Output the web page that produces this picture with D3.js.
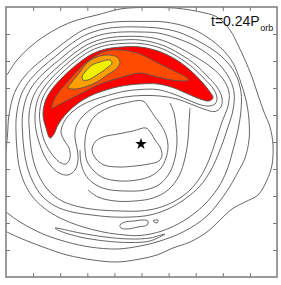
<!DOCTYPE html>
<html><head><meta charset="utf-8">
<script src="https://cdn.jsdelivr.net/npm/d3@7"></script>
<style>html,body{margin:0;padding:0;background:#fff;}svg{display:block;}</style>
</head><body>
<script>
// Data coordinates: x, y measured from the central star (arbitrary length units)
const xDomain = [-135, 136];
const yDomain = [-135, 135];
const xTicks = [-107.9, -80.8, -53.7, -26.6, 0.5, 27.6, 54.7, 81.8, 108.9];
const yTicks = [108, 81, 54, 27, 0, -27, -54, -81, -108];
const starPos = [0, -2];
const timeLabel = "t=0.24P";
const timeSub = "orb";

// filled density levels (highest = yellow)
const redRegion = [[-91,4],[-95,14],[-98,27],[-96,40],[-91,50],[-83,60],[-73,70],[-61,80],[-49,88],[-35,93],[-19,95],[-1,95],[17,91],[34,83],[49,72],[61,60],[69,50],[72,44],[68,41],[59,43],[47,48],[33,54],[17,58],[-1,58],[-19,56],[-35,52],[-51,46],[-64,38],[-75,28],[-83,17],[-87,8]];
const darkOrangeRegion = [[-89,34],[-86,44],[-79,54],[-71,63],[-61,74],[-49,84],[-35,91],[-19,92],[-1,88],[17,79],[31,72],[45,65],[48,62],[41,61],[31,62],[16,65],[-1,69],[-15,66],[-29,62],[-43,57],[-57,50],[-71,43],[-81,38]];
const orangeRegion = [[-73,54],[-69,60],[-61,70],[-53,80],[-44,85],[-34,87],[-24,85],[-21,79],[-26,72],[-34,67],[-44,60],[-56,55],[-66,53]];
const yellowRegion = [[-59,65],[-56,70],[-49,77],[-41,80],[-31,82],[-29,79],[-34,74],[-44,67],[-53,62],[-58,62]];

// unfilled contour lines
const contourA1 = [[-1,98.5],[-19,98.5],[-35.5,96.5],[-50.3,91.3],[-62.9,82.9],[-75.2,72.7],[-85.6,62.3],[-94,51.9],[-99.3,41],[-101.5,27],[-100,14],[-97,2],[-92,-8],[-86,-16],[-80,-21],[-75,-22],[-71,-16],[-72,-6],[-77,2],[-80,10],[-77,20],[-69,30],[-59,37],[-48,42],[-33.5,46.5],[-18,50.5],[-1,52.5],[16,52.5],[31,48.5],[45,43],[57,38],[67,36],[74,38],[76,44],[72.5,53],[64,62.5],[51.5,74.7],[35.5,86],[18,94.5]];
const contourA2 = [[-1,102],[-19,102],[-36,100],[-51.6,94.5],[-64.8,85.8],[-77.5,75.4],[-88.4,64.9],[-97.4,54],[-103.4,42.3],[-106,27],[-105,12],[-102,0],[-97,-13],[-90,-24],[-82,-31],[-73,-33],[-66,-28],[-63,-18],[-64,-6],[-66,4],[-65,15],[-59,25],[-48,34],[-33,41],[-16,45],[1,46.5],[19,46],[36,43],[51,37.5],[64,32.5],[74,30.5],[80,35],[81,44],[76,55],[67,65],[55,77],[39,88],[21,97]];
const contourB1 = [[-1,105.5],[-19,105.5],[-36.6,103.4],[-52.9,97.8],[-66.8,88.7],[-79.7,78.1],[-91.4,67.6],[-101.4,56.5],[-108.4,43.9],[-112,27],[-111.5,10],[-110,-6],[-107,-21],[-101,-36],[-92,-49],[-79,-59],[-61,-65],[-41,-68],[-21,-69],[-1,-69],[17,-66],[34,-59],[49,-48],[60,-34],[68,-18],[75,2],[81,20],[87,36],[88,50],[82,63],[70,75],[53,86],[35,96],[17,103]];
const contourB2 = [[-1,110],[-19,110],[-37.2,107.9],[-54.5,101.9],[-69.2,92.4],[-82.6,81.5],[-95.1,71],[-106.1,59.4],[-114.1,45.7],[-118.5,27],[-118.5,10],[-117,-8],[-114,-24],[-108,-40],[-99,-54],[-86,-64],[-69,-70],[-49,-73],[-29,-75],[-9,-75],[9,-73],[27,-67],[44,-57],[59,-44],[70,-28],[79,-8],[86,12],[92,32],[93,50],[87,66],[74,82],[56,95],[35,104],[17,109]];
const contourB3 = [[-1,115],[-19,115],[-38,112.8],[-56.4,106.6],[-72,96.6],[-85.8,85.4],[-99,74.5],[-110.8,62.3],[-119.7,47.5],[-124.5,27],[-125,10],[-124,-8],[-122,-24],[-117,-40],[-109,-54],[-97,-66],[-81,-76],[-61,-84],[-38,-90],[-16,-93],[-1,-93.5],[21,-89],[44,-78],[63,-63],[77,-46],[86,-28],[92,-8],[97,12],[100,32],[100,50],[94,69],[80,86],[59,100],[37,110],[17,114]];
const contourT2 = [[-135,-70],[-121,-80],[-98,-92],[-74,-100],[-51,-105],[-24,-107],[-1,-104],[19,-99],[42,-90],[66,-74],[86,-49],[97,-30],[104,-16],[108,2],[108,22],[105,42],[99,62],[92,79],[82,92],[66,105],[49,114],[24,120],[-1,120.5],[-19,120.5],[-38.8,118.2],[-58.4,111.7],[-75,100.8],[-89.3,89.6],[-103.4,78.5],[-116.3,65.8],[-126.3,49.6],[-132,27],[-133.5,7],[-135,-8]];
const contourT1 = [[-134,67],[-124,82],[-111,95],[-98,105],[-81,115],[-64,122],[-44,127],[-21,133],[-1,134.5],[19,134.5],[34,134],[49,132],[64,129],[76,125],[89,112],[97,97],[104,82],[111,65],[117,47],[123,30],[129,15],[132,-3],[131,-23],[126,-38],[117,-53],[104,-60],[91,-67],[79,-78],[66,-90],[49,-100],[32,-106],[16,-113],[-1,-117],[-24,-120],[-48,-118],[-74,-113],[-98,-105],[-121,-96],[-134,-90]];
const contourC1 = [[-49,-8],[-46,0],[-38,5],[-23,8],[-8,11],[5,14],[10,9],[14,2],[19,-5],[21,-13],[18,-19],[8,-22],[-6,-24],[-23,-25],[-37,-23],[-45,-17]];
const contourC2 = [[-56,2],[-53,15],[-46,26],[-33,34],[-16,39],[2,41],[8,34],[14,25],[20,17],[25,7],[27,-5],[25,-16],[20,-26],[10,-34],[-4,-38],[-21,-39],[-37,-36],[-47,-29],[-54,-19],[-56,-8]];
const contourC3 = [[29,39],[33,29],[35,16],[36,1],[34,-16],[29,-30],[19,-42],[4,-48],[-16,-49],[-35,-47],[-48,-41],[-56,-32],[-60,-21],[-61,-8]];
const contourC4 = [[49,34],[48,19],[47,2],[44,-16],[38,-34],[27,-48],[12,-56],[-6,-59],[-26,-59],[-43,-55],[-53,-48]];
const contourIsland = [[-21,-83],[-16,-80],[-7,-79],[2,-78],[7,-79],[6,-83],[-3,-85],[-14,-87],[-20,-86]];
const contourSmall = [[12,-79],[17,-78],[16,-81]];
const contourE1 = [[-86,-86],[-61,-91],[-36,-95],[-11,-97],[9,-96],[24,-92],[9,-99],[-11,-100.5],[-36,-99],[-61,-95],[-81,-89]];

const filledLevels = [
  {pts: redRegion, color: "#ff0000"},
  {pts: darkOrangeRegion, color: "#ff4a00"},
  {pts: orangeRegion, color: "#ffa000"},
  {pts: yellowRegion, color: "#f0f000"}
];
const closedLines = [contourA1, contourA2, contourB1, contourB2, contourB3, contourC1, contourC2, contourIsland, contourSmall, contourE1];
const openLines = [contourT1, contourT2, contourC3, contourC4];

const W = 281, H = 285;
const mLeft = 6, mRight = 277, mTop = 7, mBottom = 277;

const svg = d3.select("body").append("svg").attr("width", W).attr("height", H);
svg.append("rect").attr("width", W).attr("height", H).attr("fill", "#fff");

const x = d3.scaleLinear().domain(xDomain).range([mLeft, mRight]);
const y = d3.scaleLinear().domain(yDomain).range([mBottom, mTop]);

svg.append("clipPath").attr("id", "plotclip").append("rect")
  .attr("x", mLeft).attr("y", mTop).attr("width", mRight - mLeft).attr("height", mBottom - mTop);

const plot = svg.append("g").attr("clip-path", "url(#plotclip)");

const closedGen = d3.line().x(d => x(d[0])).y(d => y(d[1])).curve(d3.curveCatmullRomClosed.alpha(0.5));
const openGen = d3.line().x(d => x(d[0])).y(d => y(d[1])).curve(d3.curveCatmullRom.alpha(0.5));

const lineColor = "#555";
const lineWidth = 0.9;

plot.selectAll("path.fill").data(filledLevels).join("path")
  .attr("class", "fill")
  .attr("d", d => closedGen(d.pts))
  .attr("fill", d => d.color)
  .attr("stroke", lineColor).attr("stroke-width", lineWidth);

plot.selectAll("path.cl").data(closedLines).join("path")
  .attr("class", "cl")
  .attr("d", d => closedGen(d))
  .attr("fill", "none").attr("stroke", lineColor).attr("stroke-width", lineWidth);

plot.selectAll("path.ol").data(openLines).join("path")
  .attr("class", "ol")
  .attr("d", d => openGen(d))
  .attr("fill", "none").attr("stroke", lineColor).attr("stroke-width", lineWidth);

// star
plot.append("path")
  .attr("d", d3.symbol(d3.symbolStar).size(42)())
  .attr("transform", `translate(${x(starPos[0])},${y(starPos[1])})`)
  .attr("fill", "#000");

// frame
svg.append("rect").attr("x", mLeft).attr("y", mTop).attr("width", mRight - mLeft).attr("height", mBottom - mTop)
  .attr("fill", "none").attr("stroke", "#7a7a7a").attr("stroke-width", 1.5);

// inward ticks on all sides
function styleAxis(g) {
  g.select(".domain").remove();
  g.selectAll(".tick line").attr("stroke", "#7a7a7a").attr("stroke-width", 1);
  g.selectAll(".tick text").remove();
}
svg.append("g").attr("transform", `translate(0,${mBottom})`)
  .call(d3.axisBottom(x).tickValues(xTicks).tickSize(-4).tickFormat("")).call(styleAxis);
svg.append("g").attr("transform", `translate(0,${mTop})`)
  .call(d3.axisTop(x).tickValues(xTicks).tickSize(-4).tickFormat("")).call(styleAxis);
svg.append("g").attr("transform", `translate(${mLeft},0)`)
  .call(d3.axisLeft(y).tickValues(yTicks).tickSize(-4).tickFormat("")).call(styleAxis);
svg.append("g").attr("transform", `translate(${mRight},0)`)
  .call(d3.axisRight(y).tickValues(yTicks).tickSize(-4).tickFormat("")).call(styleAxis);

// time label: main text and subscript as separate, non-overlapping texts
const mainText = svg.append("text").attr("x", 211).attr("y", 26)
  .attr("font-family", "Liberation Sans, Arial, sans-serif").attr("font-size", 14).attr("fill", "#111")
  .text(timeLabel);
const mainW = mainText.node().getComputedTextLength();
svg.append("text").attr("x", 211 + mainW + 0.5).attr("y", 31)
  .attr("font-family", "Liberation Sans, Arial, sans-serif").attr("font-size", 9).attr("fill", "#111")
  .text(timeSub);
</script>
</body></html>
